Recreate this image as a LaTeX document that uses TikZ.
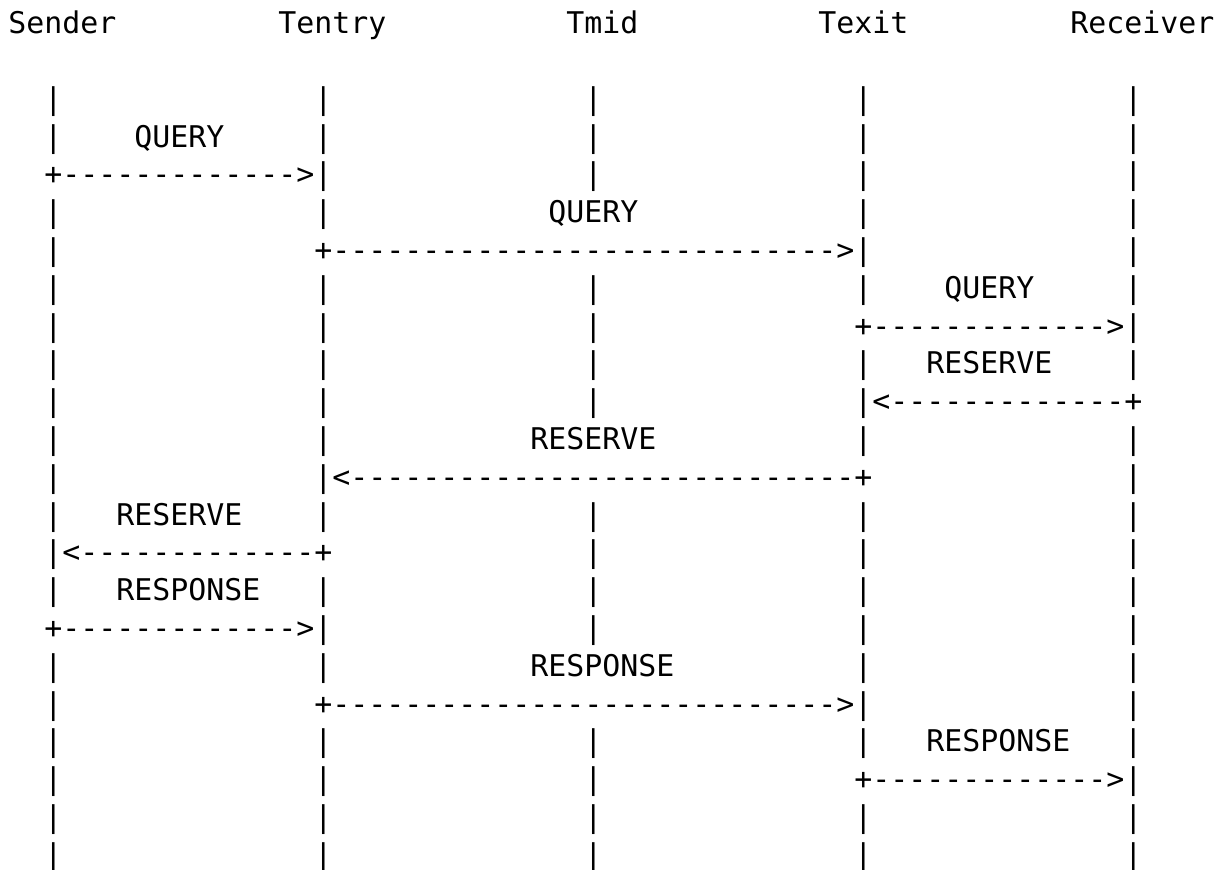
\documentclass[tikz,border=0pt]{standalone}
\usepackage{fontspec}
\newfontfamily\asciimono{DejaVu Sans Mono}[Ligatures=TeXOff]
% runs of dashes used by the message arrows
\newcommand\dashshort{-------------}% 13
\newcommand\dashlong{----------------------------}% 28
\begin{document}
\begin{tikzpicture}[
  x=9pt, y=-18.9pt,
  txt/.style={font=\asciimono\fontsize{14.95pt}{18.9pt}\selectfont,
              inner sep=0pt, outer sep=0pt, anchor=base west, text=black}]
% one unit in x is a character column, one unit in y is a text line
\useasboundingbox (-0.4611,-0.8889) rectangle (67.7611,22.1005);

% entity names
\node[txt] (snd)  at (0,0)  {Sender};
\node[txt] (ten)  at (15,0) {Tentry};
\node[txt] (tmid) at (31,0) {Tmid};
\node[txt] (tex)  at (45,0) {Texit};
\node[txt] (rcv)  at (59,0) {Receiver};

% lifelines, one bar per line where no message crosses
\foreach \r in {2,3,5,6,7,8,9,10,11,12,13,15,17,18,19,20,21,22}
  \node[txt] (bar-snd-\r) at (2,\r) {|};
\foreach \r in {2,3,5,7,8,9,10,11,13,15,17,19,20,21,22}
  \node[txt] (bar-ten-\r) at (17,\r) {|};
\foreach \r in {2,3,4,7,8,9,10,13,14,15,16,19,20,21,22}
  \node[txt] (bar-mid-\r) at (32,\r) {|};
\foreach \r in {2,3,4,5,7,9,11,13,14,15,16,17,19,21,22}
  \node[txt] (bar-tex-\r) at (47,\r) {|};
\foreach \r in {2,3,4,5,6,7,9,11,12,13,14,15,16,17,18,19,21,22}
  \node[txt] (bar-rcv-\r) at (62,\r) {|};

% QUERY
\node[txt] (lq1) at (7,3)  {QUERY};
\node[txt] (q1)  at (2,4)  {+\dashshort>|};
\node[txt] (lq2) at (30,5) {QUERY};
\node[txt] (q2)  at (17,6) {+\dashlong>|};
\node[txt] (lq3) at (52,7) {QUERY};
\node[txt] (q3)  at (47,8) {+\dashshort>|};

% RESERVE
\node[txt] (lr1) at (51,9)  {RESERVE};
\node[txt] (r1)  at (47,10) {|<\dashshort+};
\node[txt] (lr2) at (29,11) {RESERVE};
\node[txt] (r2)  at (17,12) {|<\dashlong+};
\node[txt] (lr3) at (6,13)  {RESERVE};
\node[txt] (r3)  at (2,14)  {|<\dashshort+};

% RESPONSE
\node[txt] (lp1) at (6,15)  {RESPONSE};
\node[txt] (p1)  at (2,16)  {+\dashshort>|};
\node[txt] (lp2) at (29,17) {RESPONSE};
\node[txt] (p2)  at (17,18) {+\dashlong>|};
\node[txt] (lp3) at (51,19) {RESPONSE};
\node[txt] (p3)  at (47,20) {+\dashshort>|};
\end{tikzpicture}
\end{document}
